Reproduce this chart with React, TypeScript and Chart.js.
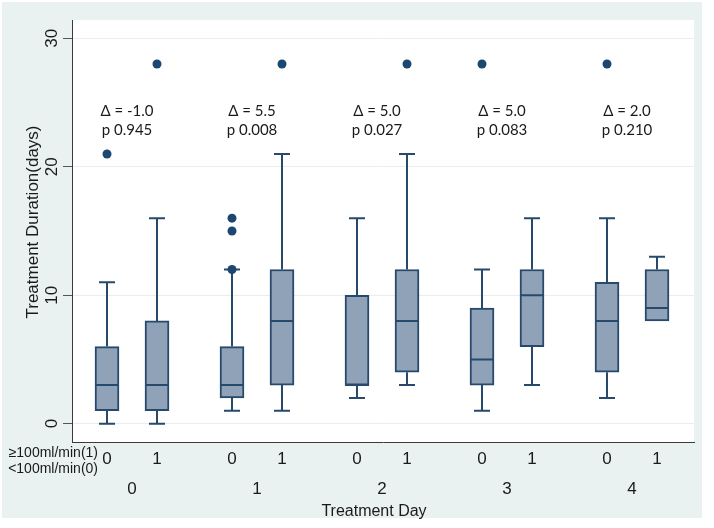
import React, { useEffect, useRef } from "react";
import { Chart, registerables } from "chart.js";

Chart.register(...registerables);

// ---- data ----
const groups = ["0", "1", "2", "3", "4"];
const subLabels = ["0", "1"];
const whiskerLow = [0, 0, 1, 1, 2, 3, 1, 3, 2, 8];
const q1 = [1, 1, 2, 3, 3, 4, 3, 6, 4, 8];
const median = [3, 3, 3, 8, 3, 8, 5, 10, 8, 9];
const q3 = [6, 8, 6, 12, 10, 12, 9, 12, 11, 12];
const whiskerHigh = [11, 16, 12, 21, 16, 21, 12, 16, 16, 13];
const outlierBox = [0, 1, 2, 2, 2, 3, 5, 6, 8];
const outlierValue = [21, 28, 12, 15, 16, 28, 28, 28, 28];
const deltas = ["-1.0", "5.5", "5.0", "5.0", "2.0"];
const pValues = ["0.945", "0.008", "0.027", "0.083", "0.210"];
const yTicks = [0, 10, 20, 30];

const GROUP_STEP = 2.5;
const BOX_HALF = 0.24;
const CAP_HALF = 0.16;

const boxPos = (i: number) => Math.floor(i / 2) * GROUP_STEP + (i % 2);

const FILL = "#8fa2b8";
const STROKE = "#27496b";
const DOT = "#1b4770";
const TEXT = "#1a1a1a";
const AXIS_FONT = "'Liberation Sans', Arial, sans-serif";
const NOTE_FONT = "Lato, 'Open Sans', sans-serif";

export default function App() {
  const ref = useRef<HTMLCanvasElement | null>(null);

  useEffect(() => {
    if (!ref.current) return;
    const n = q1.length;

    const boxes = q1.map((v, i) => ({ x: boxPos(i), y: [v, q3[i]] }));
    const whiskers: any[] = [];
    for (let i = 0; i < n; i++) {
      const x = boxPos(i);
      if (whiskerHigh[i] > q3[i]) {
        whiskers.push({ x, y: q3[i] }, { x, y: whiskerHigh[i] }, { x, y: null });
        whiskers.push({ x: x - CAP_HALF, y: whiskerHigh[i] }, { x: x + CAP_HALF, y: whiskerHigh[i] }, { x, y: null });
      }
      if (whiskerLow[i] < q1[i]) {
        whiskers.push({ x, y: q1[i] }, { x, y: whiskerLow[i] }, { x, y: null });
        whiskers.push({ x: x - CAP_HALF, y: whiskerLow[i] }, { x: x + CAP_HALF, y: whiskerLow[i] }, { x, y: null });
      }
    }
    const medians: any[] = [];
    for (let i = 0; i < n; i++) {
      const x = boxPos(i);
      medians.push({ x: x - BOX_HALF, y: median[i] }, { x: x + BOX_HALF, y: median[i] }, { x, y: null });
    }
    const outliers = outlierBox.map((b, i) => ({ x: boxPos(b), y: outlierValue[i] }));

    const decor = {
      id: "decor",
      beforeDraw(chart: any) {
        const { ctx, chartArea } = chart;
        ctx.save();
        ctx.fillStyle = "#ffffff";
        ctx.fillRect(0, 0, chart.width, chart.height);
        ctx.fillStyle = "#e9f1f1";
        ctx.fillRect(2, 2, 700, 516);
        ctx.fillStyle = "#ffffff";
        ctx.fillRect(chartArea.left, chartArea.top, chartArea.right - chartArea.left, chartArea.bottom - chartArea.top);
        ctx.restore();
      },
      afterDraw(chart: any) {
        const { ctx } = chart;
        const xs = chart.scales.x;
        const ys = chart.scales.y;
        ctx.save();
        ctx.fillStyle = TEXT;
        // y tick labels (rotated)
        ctx.font = `17px ${AXIS_FONT}`;
        ctx.textAlign = "center";
        ctx.textBaseline = "middle";
        for (const t of ys.ticks) {
          const py = ys.getPixelForValue(t.value);
          ctx.save();
          ctx.translate(52, py);
          ctx.rotate(-Math.PI / 2);
          ctx.fillText(String(t.value), 0, 0);
          ctx.restore();
        }
        // y title
        ctx.save();
        ctx.translate(33, 222);
        ctx.rotate(-Math.PI / 2);
        ctx.font = `17px ${AXIS_FONT}`;
        ctx.fillText("Treatment Duration(days)", 0, 0);
        ctx.restore();
        // x sub labels
        ctx.font = `17px ${AXIS_FONT}`;
        for (let i = 0; i < q1.length; i++) {
          ctx.fillText(subLabels[i % 2], xs.getPixelForValue(boxPos(i)), 459);
        }
        // group labels
        groups.forEach((g, gi) => {
          ctx.fillText(g, xs.getPixelForValue(gi * GROUP_STEP + 0.5), 489);
        });
        // x title
        ctx.font = `16px ${AXIS_FONT}`;
        ctx.fillText("Treatment Day", 374, 512);
        // left legend labels
        ctx.font = `14px ${AXIS_FONT}`;
        ctx.textAlign = "right";
        ctx.fillText("≥100ml/min(1)", 98, 453);
        ctx.fillText("<100ml/min(0)", 98, 469);
        // annotations
        ctx.textAlign = "center";
        ctx.font = `15px ${NOTE_FONT}`;
        groups.forEach((g, gi) => {
          const px = xs.getPixelForValue(gi * GROUP_STEP + 0.4);
          const py = ys.getPixelForValue(24.3);
          ctx.fillText(`Δ = ${deltas[gi]}`, px, py);
          ctx.fillText(`p ${pValues[gi]}`, px, py + 19);
        });
        ctx.restore();
      },
    };

    const chart = new Chart(ref.current, {
      type: "bar",
      data: {
        datasets: [
          {
            type: "bar",
            data: boxes as any,
            backgroundColor: FILL,
            borderColor: STROKE,
            borderWidth: 2,
            borderSkipped: false,
            barThickness: 24,
            order: 2,
          } as any,
          {
            type: "line",
            data: whiskers,
            borderColor: STROKE,
            borderWidth: 2,
            pointRadius: 0,
            spanGaps: false,
            fill: false,
            order: 3,
          } as any,
          {
            type: "line",
            data: medians,
            borderColor: STROKE,
            borderWidth: 2,
            pointRadius: 0,
            spanGaps: false,
            fill: false,
            order: 1,
          } as any,
          {
            type: "scatter",
            data: outliers,
            backgroundColor: DOT,
            borderColor: DOT,
            pointRadius: 4.5,
            borderWidth: 0,
            order: 0,
          } as any,
        ],
      },
      options: {
        animation: false,
        responsive: false,
        events: [],
        layout: { padding: { left: 0, top: 20, right: 20, bottom: 0 } },
        plugins: { legend: { display: false }, tooltip: { enabled: false } },
        scales: {
          x: {
            type: "linear",
            min: -0.7,
            max: 11.74,
            offset: false,
            grid: { display: false, drawTicks: false },
            border: { display: true, color: "#3a3a3a", width: 1 },
            ticks: { display: false },
            afterFit: (s: any) => {
              s.height = 86;
            },
          },
          y: {
            type: "linear",
            min: -1.43,
            max: 31.43,
            afterBuildTicks: (s: any) => {
              s.ticks = yTicks.map((v) => ({ value: v }));
            },
            grid: { color: "#e6eeee", lineWidth: 1, drawTicks: true, tickLength: 9, tickColor: "#555555" },
            border: { display: true, color: "#3a3a3a", width: 1 },
            ticks: { color: "rgba(0,0,0,0)", font: { size: 12 } },
            afterFit: (s: any) => {
              s.width = 72;
            },
          },
        },
      } as any,
      plugins: [decor],
    });
    return () => chart.destroy();
  }, []);

  return (
    <div style={{ position: "fixed", left: 0, top: 0, width: 714, height: 528 }}>
      <canvas ref={ref} width={714} height={528} style={{ display: "block" }} />
    </div>
  );
}
